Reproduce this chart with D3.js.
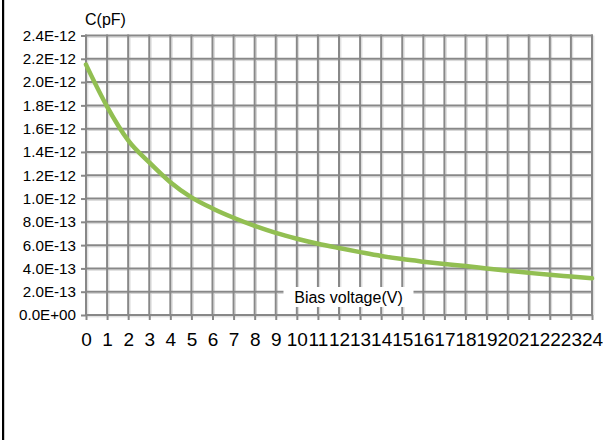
<!DOCTYPE html>
<html>
<head>
<meta charset="utf-8">
<script src="https://cdn.jsdelivr.net/npm/d3@7"></script>
<style>
  body { margin: 0; background: #fff; }
  text { font-family: "Liberation Sans", Arial, sans-serif; fill: #000; }
</style>
</head>
<body>
<div id="chart"></div>
<script>
const width = 603, height = 440;

// bias voltage (V) and capacitance (F)
const voltages = [0, 1, 2, 3, 4, 5, 6, 7, 8, 9, 10, 11, 12, 13, 14, 15, 16, 17, 18, 19, 20, 21, 22, 23, 24];
const capacitance = [2.15e-12, 1.79e-12, 1.50e-12, 1.31e-12, 1.14e-12, 1.01e-12, 0.915e-12, 0.835e-12, 0.765e-12,
                     0.705e-12, 0.655e-12, 0.612e-12, 0.575e-12, 0.54e-12, 0.507e-12, 0.48e-12, 0.458e-12, 0.438e-12,
                     0.42e-12, 0.40e-12, 0.38e-12, 0.362e-12, 0.345e-12, 0.33e-12, 0.315e-12];
const yTicks = [0, 0.2e-12, 0.4e-12, 0.6e-12, 0.8e-12, 1.0e-12, 1.2e-12, 1.4e-12, 1.6e-12, 1.8e-12, 2.0e-12, 2.2e-12, 2.4e-12];
const yTitle = "C(pF)";
const xTitle = "Bias voltage(V)";

const margin = {left: 86, right: 11, top: 35.5, bottom: 125};

const svg = d3.select("#chart")
              .append("svg")
              .attr("width", width)
              .attr("height", height);

const xScale = d3.scaleLinear()
                 .domain([0, 24])
                 .range([margin.left, width - margin.right]);

const yScale = d3.scaleLinear()
                 .domain([0, 2.4e-12])
                 .range([height - margin.bottom, margin.top]);

// Excel style exponent label, e.g. 2.4E-12 / 0.0E+00
const fmtExp = v => {
    const [m, e] = v.toExponential(1).split("e");
    return `${m}E${e[0]}${e.slice(1).padStart(2, "0")}`;
};

// left frame edge
svg.append("rect")
   .attr("x", 2)
   .attr("y", 0)
   .attr("width", 2.2)
   .attr("height", height)
   .attr("fill", "#000");

// grid with a faint shadow, like the original
const grid = svg.append("g");

grid.selectAll("line.vshadow")
    .data(voltages)
    .join("line")
    .attr("class", "vshadow")
    .attr("x1", d => xScale(d) + 1.8)
    .attr("x2", d => xScale(d) + 1.8)
    .attr("y1", yScale(2.4e-12))
    .attr("y2", yScale(0))
    .attr("stroke", "#d6d6d6")
    .attr("stroke-width", 1);

grid.selectAll("line.hshadow")
    .data(yTicks)
    .join("line")
    .attr("class", "hshadow")
    .attr("x1", xScale(0))
    .attr("x2", xScale(24))
    .attr("y1", d => yScale(d) + 1.8)
    .attr("y2", d => yScale(d) + 1.8)
    .attr("stroke", "#d6d6d6")
    .attr("stroke-width", 1);

grid.selectAll("line.v")
    .data(voltages)
    .join("line")
    .attr("class", "v")
    .attr("x1", d => xScale(d))
    .attr("x2", d => xScale(d))
    .attr("y1", yScale(2.4e-12) - 1)
    .attr("y2", yScale(0) + 1)
    .attr("stroke", "#888")
    .attr("stroke-width", 2);

grid.selectAll("line.h")
    .data(yTicks)
    .join("line")
    .attr("class", "h")
    .attr("x1", xScale(0) - 1)
    .attr("x2", xScale(24) + 1)
    .attr("y1", d => yScale(d))
    .attr("y2", d => yScale(d))
    .attr("stroke", "#888")
    .attr("stroke-width", 2);

// axes
const yAxis = svg.append("g")
                 .attr("transform", `translate(${xScale(0)}, 0)`)
                 .call(d3.axisLeft(yScale).tickValues(yTicks).tickFormat(fmtExp).tickSize(5).tickPadding(5))
                 .attr("font-size", 15.2)
                 .attr("font-family", "'Liberation Sans', Arial, sans-serif");

const xAxis = svg.append("g")
                 .attr("transform", `translate(0, ${yScale(0)})`)
                 .call(d3.axisBottom(xScale).tickValues(voltages).tickFormat(d3.format("d")).tickSize(5).tickPadding(13))
                 .attr("font-size", 19)
                 .attr("font-family", "'Liberation Sans', Arial, sans-serif");

[yAxis, xAxis].forEach(a => {
    a.select(".domain").remove();
    a.selectAll(".tick line").attr("stroke", "#888").attr("stroke-width", 2);
    a.selectAll(".tick text").attr("fill", "#000");
});

// curve
const line = d3.line()
               .x((d, i) => xScale(voltages[i]))
               .y(d => yScale(d))
               .curve(d3.curveMonotoneX);

svg.append("path")
   .datum(capacitance)
   .attr("d", line)
   .attr("fill", "none")
   .attr("stroke", "#92bf52")
   .attr("stroke-width", 4.5)
   .attr("stroke-linecap", "round");

// titles
svg.append("text")
   .attr("x", 85)
   .attr("y", 25)
   .attr("font-size", 16)
   .text(yTitle);

const tBox = svg.append("g")
                .attr("transform", `translate(${(xScale(9.4) + xScale(15.5)) / 2}, 297)`);

tBox.append("rect")
    .attr("x", -65)
    .attr("y", -10)
    .attr("width", 130)
    .attr("height", 20)
    .attr("fill", "#fff");

tBox.append("text")
    .attr("text-anchor", "middle")
    .attr("dy", "0.36em")
    .attr("font-size", 16)
    .text(xTitle);
</script>
</body>
</html>
